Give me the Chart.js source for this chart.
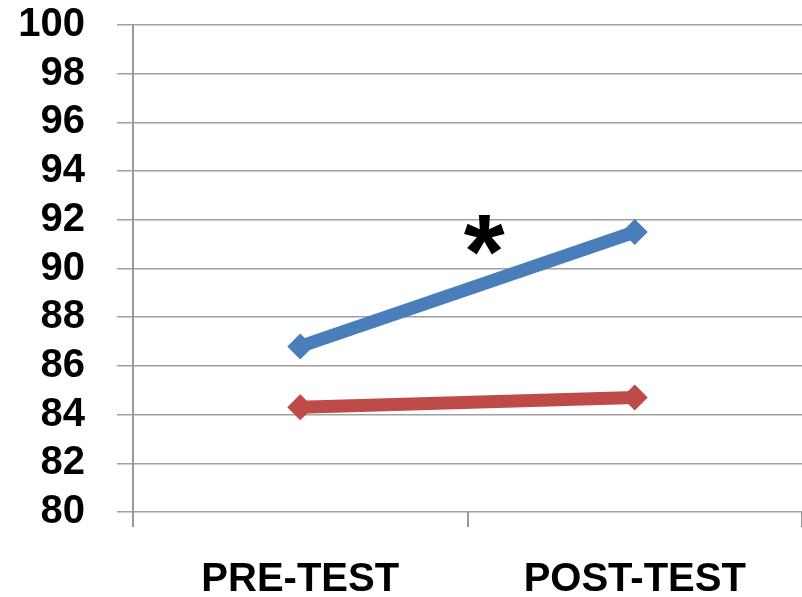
<!DOCTYPE html>
<html>
<head>
<meta charset="utf-8">
<script src="https://cdn.jsdelivr.net/npm/chart.js@4/dist/chart.umd.min.js"></script>
<style>
  html, body { margin: 0; padding: 0; background: #fff; }
  #wrap { width: 802px; height: 597px; }
</style>
</head>
<body>
<div id="wrap"><canvas id="chart" width="802" height="597"></canvas></div>
<script>
const categories = ['PRE-TEST', 'POST-TEST'];
const groupA = [86.8, 91.5];
const groupB = [84.3, 84.7];
const yMin = 80, yMax = 100, yStep = 2;
// significance marker: category position (fractional index) and value
const starLabel = '*';
const starAt = { x: 0.55, y: 91.3 };

const starPlugin = {
  id: 'star',
  afterDatasetsDraw(chart) {
    const ctx = chart.ctx;
    const px = chart.scales.x.getPixelForValue(starAt.x);
    const py = chart.scales.y.getPixelForValue(starAt.y);
    ctx.save();
    ctx.fillStyle = '#000';
    ctx.font = 'bold 105px "Liberation Sans", Arial, sans-serif';
    ctx.textAlign = 'center';
    ctx.textBaseline = 'middle';
    ctx.fillText(starLabel, px, py + 22);
    ctx.restore();
  }
};

new Chart(document.getElementById('chart'), {
  type: 'line',
  data: {
    labels: categories,
    datasets: [
      {
        data: groupA,
        borderColor: '#4a7ebb',
        backgroundColor: '#4a7ebb',
        borderWidth: 13,
        pointStyle: 'rectRot',
        pointRadius: 13,
        pointBorderWidth: 0
      },
      {
        data: groupB,
        borderColor: '#be4b48',
        backgroundColor: '#be4b48',
        borderWidth: 13,
        pointStyle: 'rectRot',
        pointRadius: 13,
        pointBorderWidth: 0
      }
    ]
  },
  options: {
    responsive: false,
    animation: false,
    layout: { autoPadding: false, padding: { top: 25, right: 0, left: 0, bottom: 0 } },
    plugins: { legend: { display: false }, tooltip: { enabled: false } },
    scales: {
      x: {
        offset: true,
        afterFit(scale) { scale.height = 85; scale.paddingLeft = 0; scale.paddingRight = 0; },
        grid: { offset: true, drawOnChartArea: false, drawTicks: true, tickLength: 15, color: '#999', lineWidth: 2 },
        border: { display: false },
        ticks: { color: '#000', padding: 29, font: { family: '"Liberation Sans", Arial, sans-serif', size: 40, weight: 'bold' } }
      },
      y: {
        min: yMin,
        max: yMax,
        afterFit(scale) { scale.width = 133; scale.paddingTop = 0; scale.paddingBottom = 0; },
        ticks: { stepSize: yStep, autoSkip: false, color: '#000', padding: 32, font: { family: '"Liberation Sans", Arial, sans-serif', size: 40, weight: 'bold' } },
        grid: { color: '#a0a0a0', lineWidth: 1.5, tickLength: 16 },
        border: { color: '#999', width: 2 }
      }
    }
  },
  plugins: [starPlugin]
});
</script>
</body>
</html>
